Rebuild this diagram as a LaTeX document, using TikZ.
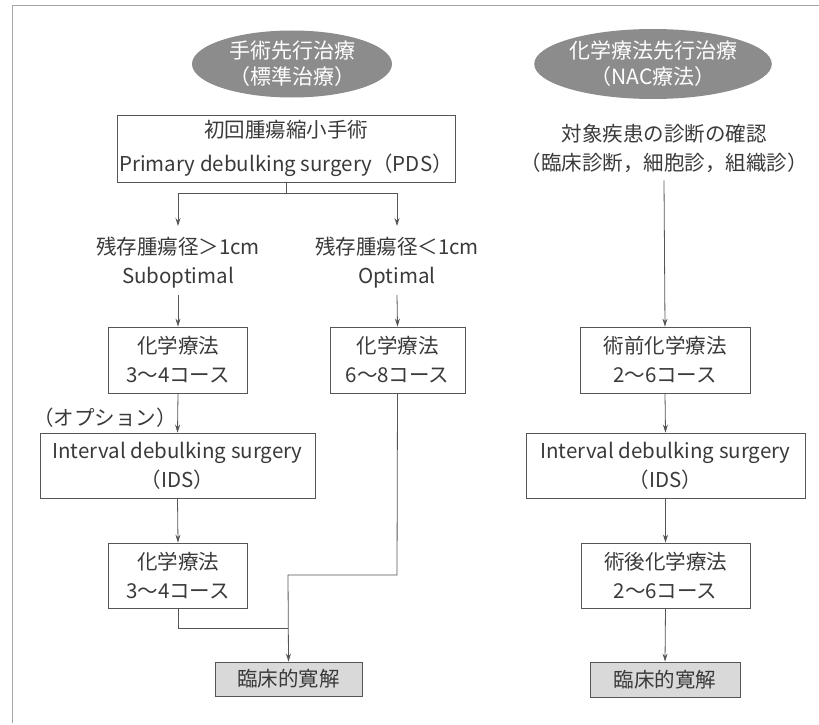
\documentclass[tikz,border=0pt]{standalone}
\usepackage{fontspec}
\setmainfont{Noto Sans CJK JP}
\usetikzlibrary{arrows.meta,shapes.geometric}
\definecolor{ink}{HTML}{3A3A3A}
\definecolor{linec}{HTML}{555555}
\definecolor{ellfill}{HTML}{8C8C8C}
\definecolor{remfill}{HTML}{D9D9D9}
\begin{document}
\begin{tikzpicture}[x=1pt,y=-1pt,
  every node/.style={text=ink,font=\fontsize{20.5}{29}\selectfont,inner sep=0pt,align=center},
  box/.style={draw=linec,line width=0.8pt,fill=white,rectangle},
  oval/.style={ellipse,fill=ellfill,text=white,font=\fontsize{21}{26}\selectfont},
  rem/.style={draw=linec,line width=0.8pt,fill=remfill,rectangle},
  conn/.style={draw=linec,line width=0.8pt},
  arr/.style={conn,-{Stealth[length=8pt,width=5pt]}}]
\useasboundingbox (0,0) rectangle (819,725);
\coordinate (fA) at (12,723);
\coordinate (fB) at (12,5);
\coordinate (fC) at (819,5);
\draw[draw=gray!70,line width=0.8pt] (fA) -- (fB) -- (fC);
% left column
\node[oval,minimum width=200,minimum height=67] (e1) at (292,64) {手術先行治療\\（標準治療）};
\node[box,minimum width=338,minimum height=67,font=\fontsize{20.5}{34}\selectfont] (pds) at (286,148.5) {初回腫瘍縮小手術\\Primary debulking surgery（PDS）};
\coordinate (split) at (286,193);
\coordinate (splitL) at (178,193);
\coordinate (splitR) at (397,193);
\node (lab1) at (178,263) {残存腫瘍径＞1cm\\Suboptimal};
\node (lab2) at (397,263) {残存腫瘍径＜1cm\\Optimal};
\node[box,minimum width=139,minimum height=66] (ch1) at (178,360) {化学療法\\3〜4コース};
\node[box,minimum width=135,minimum height=66] (ch2) at (397.5,360) {化学療法\\6〜8コース};
\node (opt) at (105,418) {（オプション）};
\node[box,minimum width=275,minimum height=65] (ids1) at (177.5,465.5) {Interval debulking surgery\\（IDS）};
\node[box,minimum width=139,minimum height=65] (ch3) at (178,575.5) {化学療法\\3〜4コース};
\node[rem,minimum width=147,minimum height=34] (rem1) at (288.5,679) {臨床的寛解};
\coordinate (j1) at (178,628);
\coordinate (j2) at (288,628);
\coordinate (k1) at (397,575);
\coordinate (k2) at (288,575);
\draw[conn] (pds.south) -- (split);
\draw[conn] (splitL) -- (splitR);
\draw[arr] (splitL) -- (178,226);
\draw[arr] (splitR) -- (397,226);
\draw[arr] (lab1.south) ++(0,6) -- (ch1.north);
\draw[arr] (lab2.south) ++(0,6) -- (ch2.north);
\draw[arr] (ch1.south) -- (ids1.north);
\draw[arr] (ids1.south) -- (ch3.north);
\draw[conn] (ch3.south) -- (j1) -- (j2);
\draw[arr] (ch2.south) -- (k1) -- (k2) -- (rem1.north);
% right column
\node[oval,minimum width=237,minimum height=70] (e2) at (653,64) {化学療法先行治療\\（NAC療法）};
\node (diag) at (664,148) {対象疾患の診断の確認\\（臨床診断，細胞診，組織診）};
\node[box,minimum width=170,minimum height=66] (pre) at (665,360) {術前化学療法\\2〜6コース};
\node[box,minimum width=279,minimum height=65] (ids2) at (665.5,465.5) {Interval debulking surgery\\（IDS）};
\node[box,minimum width=169,minimum height=65] (post) at (665.5,575.5) {術後化学療法\\2〜6コース};
\node[rem,minimum width=150,minimum height=35] (rem2) at (665,679.5) {臨床的寛解};
\draw[arr] (diag.south) ++(0,8) -- (pre.north);
\draw[arr] (pre.south) -- (ids2.north);
\draw[arr] (ids2.south) -- (post.north);
\draw[arr] (post.south) -- (rem2.north);
\end{tikzpicture}
\end{document}
